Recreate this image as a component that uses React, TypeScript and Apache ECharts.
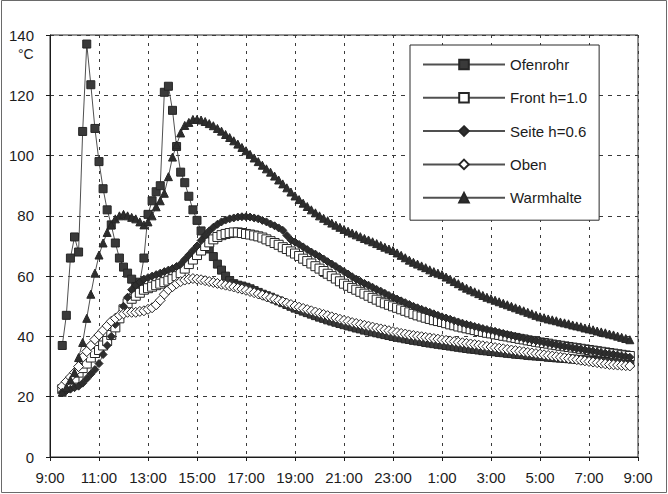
import React, { useEffect, useRef } from "react";
import * as echarts from "echarts";

// x positions: hours after 9:00, first sample 9:30, one sample every 10 min
const START_H = 0.5;
const STEP_H = 1 / 6;

const X_TICK_LABELS = ["9:00", "11:00", "13:00", "15:00", "17:00", "19:00", "21:00", "23:00", "1:00", "3:00", "5:00", "7:00", "9:00"];
const SERIES_NAMES = ["Ofenrohr", "Front h=1.0", "Seite h=0.6", "Oben", "Warmhalte"];

const OFENROHR = [
  37, 47, 66,
  73, 68, 108, 137, 123.5, 109,
  98, 89, 82, 77, 71, 66,
  63, 61, 59, 56.5, 58, 66,
  80.5, 85, 88, 90, 121, 123,
  115, 103, 94.5, 91, 86.5, 82,
  78.5, 75, 72, 69, 66.5, 64,
  62, 60, 58.5, 57.5, 57, 56.7,
  56.3, 55.8, 55.2, 54.6, 54, 53.5,
  53, 52.4, 51.8, 51.2, 50.6, 50,
  49.4, 48.9, 48.4, 47.9, 47.4, 46.9,
  46.4, 46, 45.5, 45.1, 44.7, 44.3,
  43.9, 43.5, 43.2, 42.8, 42.5, 42.1,
  41.8, 41.5, 41.2, 40.9, 40.6, 40.3,
  40, 39.7, 39.5, 39.2, 39, 38.7,
  38.5, 38.3, 38, 37.8, 37.6, 37.4,
  37.2, 37, 36.8, 36.6, 36.4, 36.2,
  36, 35.8, 35.7, 35.5, 35.3, 35.2,
  35, 34.9, 34.7, 34.6, 34.4, 34.3,
  34.1, 34, 33.9, 33.7, 33.6, 33.5,
  33.4, 33.3, 33.1, 33, 32.9, 32.8,
  32.7, 32.6, 32.5, 32.4, 32.3, 32.2,
  32.1, 32, 31.9, 31.8, 31.7, 31.6,
  31.5, 31.4, 31.3, 31.2, 31.1,
];

const FRONT = [
  22.5, 23.5, 24.5,
  26, 28, 29.5, 31, 33, 34.5,
  35.5, 37, 38.5, 40.5, 43, 46,
  49, 51, 52.5, 53.5, 54.5, 55.5,
  56, 56.5, 57, 57.5, 58, 58.5,
  59, 60, 61, 62.5, 64, 65.5,
  67, 68.5, 70, 71.2, 72.2, 73,
  73.6, 74, 74.3, 74.5, 74.5, 74.3,
  74, 73.8, 73.5, 73.2, 72.8, 72.2,
  71.6, 71, 70.4, 69.6, 69, 68.2,
  67.5, 66.7, 65.8, 65, 64.2, 63.3,
  62.5, 61.7, 60.8, 60, 59.2, 58.3,
  57.5, 56.8, 56.1, 55.5, 54.8, 54.2,
  53.5, 52.8, 52.2, 51.5, 51, 50.5,
  50, 49.5, 49, 48.5, 48, 47.5,
  47, 46.6, 46.2, 45.8, 45.4, 45.1,
  44.8, 44.4, 44, 43.7, 43.3, 43,
  42.7, 42.4, 42.1, 41.8, 41.5, 41.2,
  41, 40.7, 40.5, 40.2, 40, 39.7,
  39.5, 39.2, 39, 38.7, 38.5, 38.2,
  38, 37.8, 37.6, 37.3, 37.1, 36.9,
  36.7, 36.5, 36.3, 36.1, 35.9, 35.7,
  35.5, 35.3, 35.1, 34.9, 34.7, 34.5,
  34.3, 34.1, 33.9, 33.7, 33.5,
];

const SEITE = [
  21.5, 22, 22.5,
  23, 23.5, 24.5, 26, 27.5, 29,
  31, 34, 37, 40, 44, 47,
  50, 53, 55.5, 57, 58, 59,
  59.5, 60, 60.5, 61, 61.5, 62,
  62.5, 63.2, 64, 65.5, 67, 68.5,
  70, 71.8, 73.5, 75, 76.2, 77.2,
  78, 78.6, 79, 79.3, 79.6, 79.7,
  79.7, 79.6, 79.3, 79, 78.5, 78,
  77.3, 76.7, 76, 75.2, 73.5, 72,
  71.3, 70.5, 69.7, 68.8, 68, 67.3,
  66.5, 65.7, 64.8, 64, 63.2, 62.3,
  61.5, 60.7, 59.8, 59, 58.3, 57.6,
  57, 56.3, 55.6, 55, 54.3, 53.6,
  53, 52.4, 51.8, 51.2, 50.6, 50,
  49.5, 49, 48.5, 48, 47.5, 47,
  46.5, 46.1, 45.7, 45.2, 44.8, 44.4,
  44, 43.7, 43.3, 43, 42.6, 42.3,
  42, 41.7, 41.3, 41, 40.6, 40.3,
  40, 39.7, 39.4, 39.1, 38.8, 38.5,
  38.3, 38, 37.7, 37.5, 37.2, 36.9,
  36.7, 36.5, 36.2, 36, 35.8, 35.5,
  35.3, 35.1, 34.9, 34.6, 34.4, 34.2,
  34, 33.8, 33.5, 33.3, 33.1,
];

const OBEN = [
  23.5, 25, 26.5,
  28, 30, 33, 35, 37, 39,
  40.5, 42, 43.5, 45, 46, 47,
  47.5, 48, 48, 48, 48.3, 48.5,
  49, 49.5, 50.5, 52, 54, 55.5,
  56.5, 57.5, 58.2, 58.7, 59, 59.2,
  59, 58.8, 58.5, 58.2, 57.9, 57.6,
  57.3, 57, 56.7, 56.4, 56, 55.7,
  55.3, 54.9, 54.5, 54.1, 53.7, 53.2,
  52.8, 52.4, 51.9, 51.5, 51, 50.6,
  50.1, 49.7, 49.3, 48.9, 48.5, 48.1,
  47.7, 47.3, 46.9, 46.5, 46.1, 45.7,
  45.3, 45, 44.6, 44.3, 44, 43.7,
  43.4, 43.1, 42.8, 42.5, 42.2, 41.9,
  41.6, 41.3, 41, 40.8, 40.5, 40.3,
  40.1, 39.9, 39.7, 39.5, 39.3, 39.1,
  38.9, 38.7, 38.5, 38.3, 38.1, 37.9,
  37.7, 37.5, 37.3, 37.1, 36.9, 36.7,
  36.5, 36.3, 36.1, 35.9, 35.7, 35.5,
  35.3, 35.1, 34.9, 34.7, 34.5, 34.3,
  34.1, 33.9, 33.7, 33.5, 33.3, 33.1,
  32.9, 32.7, 32.5, 32.3, 32.1, 31.9,
  31.7, 31.5, 31.3, 31.1, 30.9, 30.7,
  30.6, 30.5, 30.4, 30.3, 30.2,
];

const WARMHALTE = [
  21.5, 23, 25.5,
  28, 33, 38, 46, 54, 61,
  67, 71, 74.5, 77, 79, 80,
  80.5, 80, 79.5, 79, 78, 77,
  78, 80, 83, 85, 87.5, 93,
  99.5, 103.5, 107.5, 110, 111, 112,
  112, 111.8, 111.3, 110.6, 109.9, 109,
  108.1, 107, 106, 104.9, 103.8, 102.7,
  101.6, 100.4, 99.2, 98, 96.8, 95.6,
  94.5, 93.2, 91.9, 90.6, 89.3, 87.9,
  86.6, 85.4, 84.2, 83.1, 82, 81,
  80, 79.2, 78.4, 77.6, 76.9, 76.2,
  75.5, 74.9, 74.3, 73.7, 73.1, 72.5,
  72, 71.4, 70.8, 70.2, 69.6, 69,
  68.5, 67.7, 66.9, 66.1, 65.3, 64.6,
  64, 63.4, 62.8, 62.1, 61.5, 61,
  60.5, 59.7, 59, 58.2, 57.5, 56.7,
  56, 55.4, 54.8, 54.2, 53.6, 53,
  52.5, 52, 51.5, 51, 50.5, 50,
  49.5, 49, 48.5, 48, 47.5, 47,
  46.5, 46.2, 45.8, 45.5, 45.2, 44.8,
  44.5, 44.2, 43.8, 43.5, 43.2, 42.8,
  42.5, 42.2, 41.8, 41.5, 41.2, 40.8,
  40.5, 40.1, 39.7, 39.3, 38.9,
];

const FONT = "'Liberation Sans', Arial, sans-serif";
const TEXT = "#1c1c1c";

const toPairs = (vals: number[]) => vals.map((v, i) => [START_H + i * STEP_H, v]);

const lineSeries = (name: string, vals: number[], symbol: string, size: number, fill: string) => ({
  name,
  type: "line",
  data: toPairs(vals),
  symbol,
  symbolSize: size,
  showSymbol: true,
  lineStyle: { color: "#505050", width: 1 },
  itemStyle: { color: fill, borderColor: "#262626", borderWidth: 1 },
  emphasis: { disabled: true },
});

export default function App() {
  const ref = useRef<HTMLDivElement>(null);
  useEffect(() => {
    if (!ref.current) return;
    const chart = echarts.init(ref.current, undefined, { renderer: "svg" });
    chart.setOption({
      animation: false,
      backgroundColor: "#ffffff",
      grid: { left: 50, right: 30, top: 35, bottom: 37, show: true, borderColor: "#2a2a2a", borderWidth: 1, backgroundColor: "transparent" },
      xAxis: {
        type: "value",
        min: 0,
        max: 24,
        interval: 2,
        axisLine: { show: true, onZero: false, lineStyle: { color: "#1a1a1a", width: 1 } },
        axisTick: { show: true, length: 4, lineStyle: { color: "#1a1a1a" } },
        axisLabel: {
          margin: 13,
          color: TEXT,
          fontSize: 15,
          fontFamily: FONT,
          formatter: (v: number) => X_TICK_LABELS[Math.round(v / 2)] ?? "",
        },
        splitLine: { show: true, lineStyle: { color: "#3a3a3a", width: 1, type: [3, 5] } },
      },
      yAxis: {
        type: "value",
        min: 0,
        max: 140,
        interval: 20,
        axisLine: { show: true, lineStyle: { color: "#1a1a1a", width: 1 } },
        axisTick: { show: true, length: 4, lineStyle: { color: "#1a1a1a" } },
        axisLabel: { margin: 16, color: TEXT, fontSize: 15, fontFamily: FONT },
        splitLine: { show: true, lineStyle: { color: "#3a3a3a", width: 1, type: [4, 5] } },
      },
      legend: {
        orient: "vertical",
        left: 410,
        top: 45,
        padding: [12, 12, 15, 12],
        itemGap: 18.3,
        itemWidth: 82,
        itemHeight: 12,
        borderColor: "#2a2a2a",
        borderWidth: 1,
        backgroundColor: "#ffffff",
        data: SERIES_NAMES,
        textStyle: { color: TEXT, fontSize: 15, fontFamily: FONT, lineHeight: 15 },
      },
      graphic: [
        { type: "text", left: 18, top: 47, style: { text: "°C", fill: TEXT, font: `14px ${FONT}` } },
        { type: "rect", shape: { x: 1.5, y: 0.5, width: 665, height: 492 }, style: { fill: "none", stroke: "#6a6a6a", lineWidth: 1 }, silent: true },
      ],
      series: [
        lineSeries(SERIES_NAMES[0], OFENROHR, "rect", 8, "#3a3a3a"),
        lineSeries(SERIES_NAMES[1], FRONT, "rect", 9, "#ffffff"),
        lineSeries(SERIES_NAMES[2], SEITE, "diamond", 8, "#2e2e2e"),
        lineSeries(SERIES_NAMES[3], OBEN, "diamond", 10, "#ffffff"),
        lineSeries(SERIES_NAMES[4], WARMHALTE, "triangle", 8, "#2e2e2e"),
      ],
    });
    return () => chart.dispose();
  }, []);
  return <div ref={ref} style={{ position: "fixed", left: 0, top: 0, width: 668, height: 494 }} />;
}
